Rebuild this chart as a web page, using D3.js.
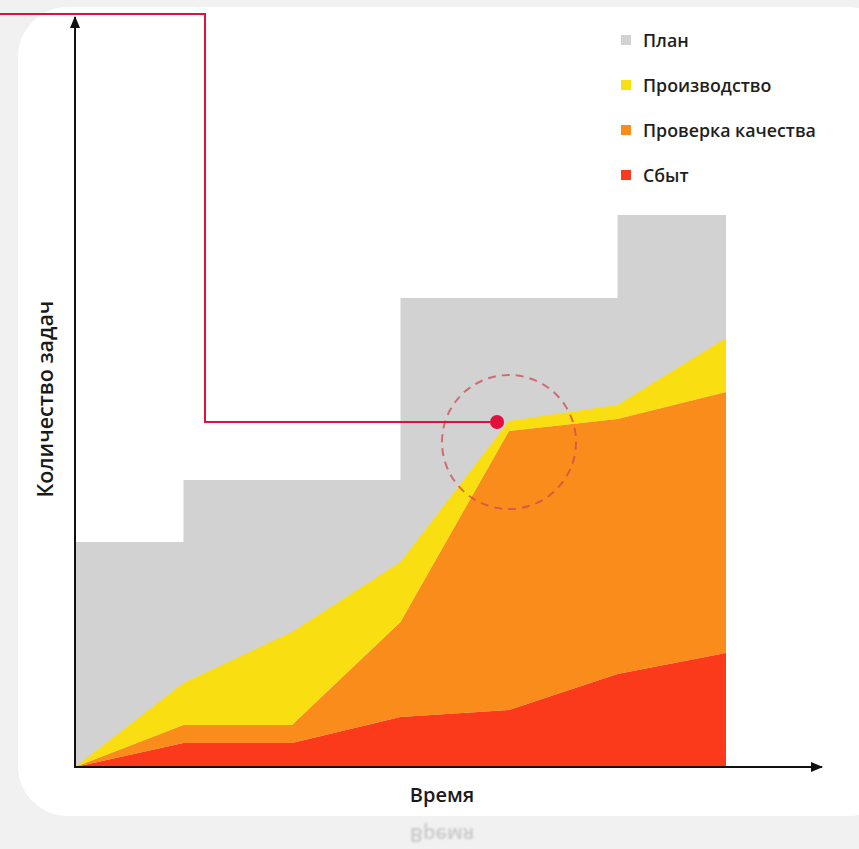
<!DOCTYPE html>
<html>
<head>
<meta charset="utf-8">
<script src="https://cdn.jsdelivr.net/npm/d3@7"></script>
<style>
  html, body { margin: 0; padding: 0; background: #f1f1f1; }
  svg { display: block; }
  text { font-family: "Open Sans", "Noto Sans", sans-serif; }
</style>
</head>
<body>
<svg id="chart" width="859" height="849"></svg>
<script>
// Periods along the time axis
const periods = [0, 1, 2, 3, 4, 5, 6];

// Planned number of tasks (step per period)
const plan = [45, 57.4, 57.4, 93.8, 93.8, 110.4, 110.4];

// Task counts by stage (stacked bottom to top: sales, QA, production)
const sales      = [0, 4.8, 4.8, 10, 11.4, 18.6, 22.8];
const quality    = [0, 3.6, 3.6, 19, 55.8, 51.0, 52.2];
const production = [0, 8.4, 18.6, 12, 2.0, 2.8, 10.8];

const seriesKeys   = ["sales", "quality", "production"];
const legendLabels = ["План", "Производство", "Проверка качества", "Сбыт"];
const legendColors = ["#d2d2d2", "#f9df12", "#fa8c1c", "#fa3a1b"];
const stageColors  = { sales: "#fa3a1b", quality: "#fa8c1c", production: "#f9df12" };

const xTitle = "Время";
const yTitle = "Количество задач";

// Highlighted moment: the point where QA catches up with production
const focus = { period: 3.89, value: 69 };
const ring  = { period: 4.0, value: 65, r: 67 };

const svg = d3.select("#chart");
const W = 859, H = 849;

// Card background
svg.append("rect").attr("width", W).attr("height", H).attr("fill", "#f1f1f1");
svg.append("rect")
  .attr("x", 18).attr("y", 7).attr("width", 880).attr("height", 809)
  .attr("rx", 50).attr("ry", 50).attr("fill", "#ffffff");

const x = d3.scaleLinear().domain([0, 6]).range([75, 726]);
const y = d3.scaleLinear().domain([0, 150]).range([767, 17]);

const rows = periods.map((p, i) => ({
  period: p, sales: sales[i], quality: quality[i], production: production[i], plan: plan[i]
}));

// Plan as a stepped area behind the stages
svg.append("path")
  .datum(rows)
  .attr("fill", legendColors[0])
  .attr("d", d3.area()
    .curve(d3.curveStepAfter)
    .x(d => x(d.period))
    .y0(y(0))
    .y1(d => y(d.plan)));

// Stacked stages
const stacked = d3.stack().keys(seriesKeys)(rows);
const area = d3.area()
  .x(d => x(d.data.period))
  .y0(d => y(d[0]))
  .y1(d => y(d[1]));

svg.append("g").selectAll("path")
  .data(stacked)
  .join("path")
  .attr("fill", d => stageColors[d.key])
  .attr("d", area);

// Axes with arrowheads
const defs = svg.append("defs");
defs.append("marker")
  .attr("id", "arrow")
  .attr("viewBox", "0 0 12 10")
  .attr("refX", 11).attr("refY", 5)
  .attr("markerWidth", 12).attr("markerHeight", 10)
  .attr("markerUnits", "userSpaceOnUse")
  .attr("orient", "auto")
  .append("path").attr("d", "M0,0 L12,5 L0,10 Z").attr("fill", "#111");

const xEnd = 822, yEnd = 17;
svg.append("line")
  .attr("x1", x(0) - 1).attr("y1", y(0))
  .attr("x2", xEnd).attr("y2", y(0))
  .attr("stroke", "#111").attr("stroke-width", 2)
  .attr("marker-end", "url(#arrow)");
svg.append("line")
  .attr("x1", x(0)).attr("y1", y(0) + 1)
  .attr("x2", x(0)).attr("y2", yEnd)
  .attr("stroke", "#111").attr("stroke-width", 2)
  .attr("marker-end", "url(#arrow)");

// Axis titles
svg.append("text")
  .attr("x", 442).attr("y", 802)
  .attr("text-anchor", "middle")
  .attr("font-size", 20).attr("font-weight", 600).attr("fill", "#1a1a1a")
  .text(xTitle);

// Faded mirror of the x title under the card
const blur = defs.append("filter").attr("id", "soft");
blur.append("feGaussianBlur").attr("stdDeviation", 0.9);
svg.append("text")
  .attr("transform", "translate(442, 828) scale(1,-1)")
  .attr("text-anchor", "middle")
  .attr("font-size", 20).attr("font-weight", 600).attr("fill", "#c9c9c9")
  .attr("filter", "url(#soft)")
  .text(xTitle);

svg.append("text")
  .attr("transform", "translate(53, 399) rotate(-90)")
  .attr("text-anchor", "middle")
  .attr("font-size", 21.5).attr("font-weight", 600).attr("fill", "#1a1a1a")
  .text(yTitle);

// Legend
const legend = svg.append("g").attr("transform", "translate(621, 40)");
const item = legend.selectAll("g")
  .data(legendLabels)
  .join("g")
  .attr("transform", (d, i) => `translate(0, ${i * 45})`);
item.append("rect")
  .attr("x", 0).attr("y", -5).attr("width", 10).attr("height", 10)
  .attr("fill", (d, i) => legendColors[i]);
item.append("text")
  .attr("x", 22).attr("y", 6.5)
  .attr("font-size", 17.8).attr("font-weight", 600).attr("fill", "#1f1f1f")
  .text(d => d);

// Callout: dashed ring around the focus point and a connector line
svg.append("circle")
  .attr("cx", x(ring.period)).attr("cy", y(ring.value)).attr("r", ring.r)
  .attr("fill", "none")
  .attr("stroke", "#cf4a52").attr("stroke-opacity", 0.75)
  .attr("stroke-width", 2).attr("stroke-dasharray", "8 6");

const fx = x(focus.period), fy = y(focus.value);
svg.append("path")
  .attr("d", `M0,14 H205 V${fy} H${fx}`)
  .attr("fill", "none").attr("stroke", "#e1103c").attr("stroke-width", 2);
svg.append("circle")
  .attr("cx", fx).attr("cy", fy).attr("r", 7)
  .attr("fill", "#e1103c");
</script>
</body>
</html>
